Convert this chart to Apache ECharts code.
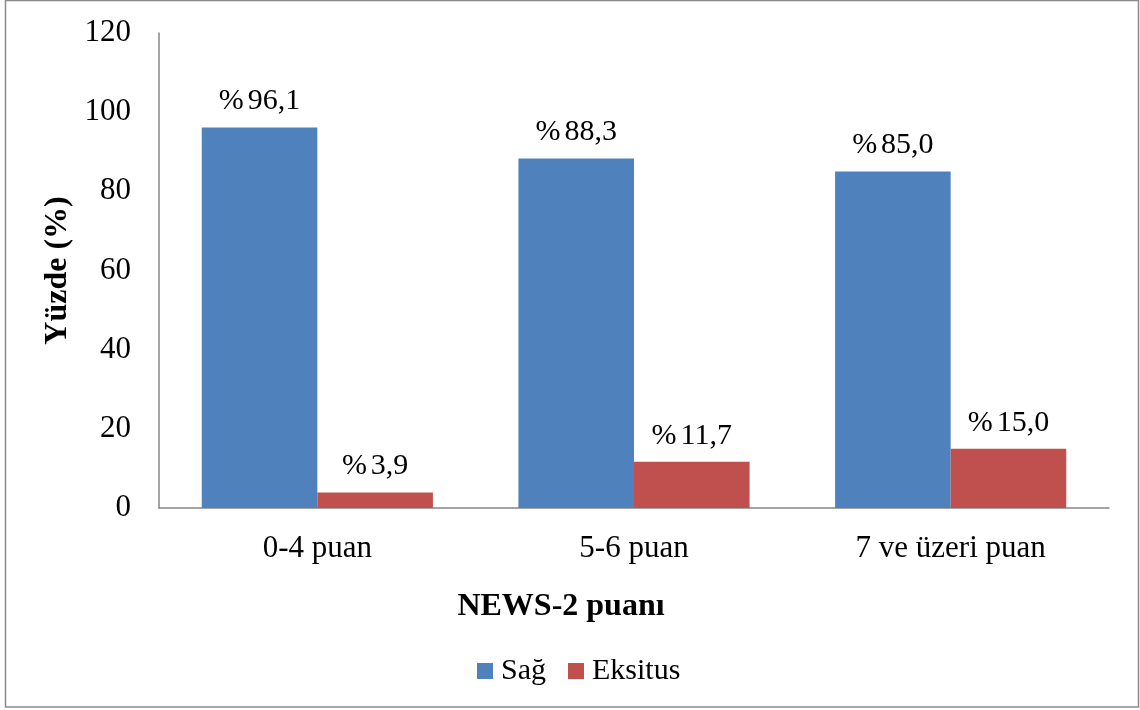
<!DOCTYPE html>
<html>
<head>
<meta charset="utf-8">
<script src="https://cdn.jsdelivr.net/npm/echarts@6/dist/echarts.min.js"></script>
<style>
  html, body { margin: 0; padding: 0; background: #fff; }
  #chart { width: 1140px; height: 710px; }
</style>
</head>
<body>
<div id="chart"></div>
<script>
// NEWS-2 score groups and outcome percentages
const categories = ['0-4 puan', '5-6 puan', '7 ve üzeri puan'];
const sagValues = [96.1, 88.3, 85.0];
const eksitusValues = [3.9, 11.7, 15.0];
const yTicks = { min: 0, max: 120, interval: 20 };

const FONT = '"Liberation Serif", "Times New Roman", serif';

// value label: "%" sign followed by the value with a decimal comma
const fmtPct = (v) => '{p|%}{v|' + v.toFixed(1).replace('.', ',') + '}';

const chart = echarts.init(document.getElementById('chart'), null, { renderer: 'canvas' });

const labelStyle = {
  show: true,
  position: 'top',
  distance: 11,
  fontFamily: FONT,
  fontSize: 30,
  color: '#000',
  formatter: (p) => fmtPct(p.value),
  rich: {
    p: { fontFamily: FONT, fontSize: 30, color: '#000', padding: [0, 4, 0, 0] },
    v: { fontFamily: FONT, fontSize: 30, color: '#000' }
  }
};

chart.setOption({
  backgroundColor: '#fff',
  animation: false,
  grid: { left: 159, right: 31, top: 33, bottom: 202, containLabel: false },
  legend: {
    data: ['Sağ', 'Eksitus'],
    left: 472,
    top: 651,
    itemWidth: 16,
    itemHeight: 16,
    itemGap: 22,
    icon: 'rect',
    textStyle: { fontFamily: FONT, fontSize: 30, color: '#000', padding: [0, 0, 0, 3] }
  },
  xAxis: {
    type: 'category',
    data: categories,
    axisLine: { lineStyle: { color: '#868686', width: 1.5 } },
    axisTick: { show: false },
    axisLabel: { fontFamily: FONT, fontSize: 31, color: '#000', margin: 25 }
  },
  yAxis: {
    type: 'value',
    min: yTicks.min,
    max: yTicks.max,
    interval: yTicks.interval,
    name: 'Yüzde (%)',
    nameLocation: 'middle',
    nameGap: 84,
    nameTextStyle: { fontFamily: FONT, fontSize: 32, fontWeight: 'bold', color: '#000' },
    axisLine: { show: true, lineStyle: { color: '#868686', width: 1.5 } },
    axisTick: { show: false },
    splitLine: { show: false },
    axisLabel: { fontFamily: FONT, fontSize: 31, color: '#000', margin: 28 }
  },
  series: [
    {
      name: 'Sağ',
      type: 'bar',
      data: sagValues,
      barWidth: '36.5%',
      barGap: '0%',
      itemStyle: { color: '#4F81BD' },
      label: labelStyle
    },
    {
      name: 'Eksitus',
      type: 'bar',
      data: eksitusValues,
      barWidth: '36.5%',
      itemStyle: { color: '#C0504D' },
      label: labelStyle
    }
  ],
  graphic: [
    {
      type: 'rect',
      shape: { x: 5.5, y: 0.5, width: 1133, height: 706.5 },
      style: { fill: 'none', stroke: '#8a8a8a', lineWidth: 1.5 },
      silent: true
    },
    {
      type: 'text',
      x: 561,
      y: 607,
      style: {
        text: 'NEWS-2 puanı',
        fontFamily: FONT,
        fontSize: 32,
        fontWeight: 'bold',
        fill: '#000',
        align: 'center',
        verticalAlign: 'middle'
      }
    }
  ]
});
</script>
</body>
</html>
